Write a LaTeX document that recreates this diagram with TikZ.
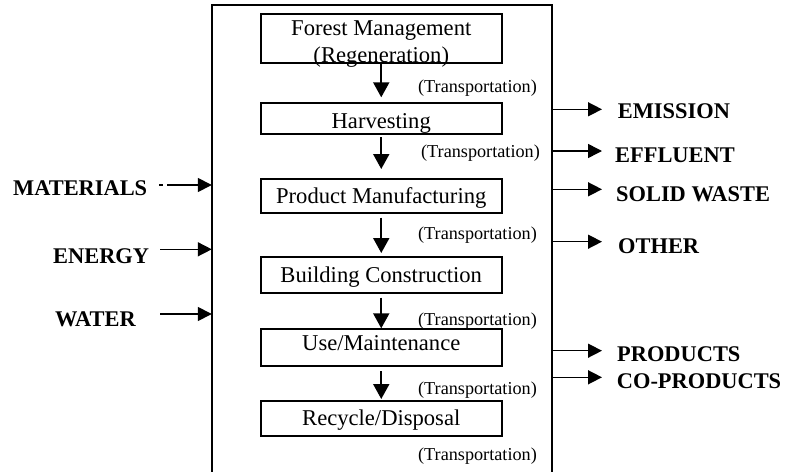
\documentclass[tikz,border=0pt]{standalone}
\usepackage{fontspec}
\setmainfont{Liberation Serif}
\usetikzlibrary{arrows.meta}
\begin{document}
\begin{tikzpicture}[x=1pt,y=-1pt,
  boxtxt/.style={font=\fontsize{22.6}{27}\selectfont, inner sep=0pt, anchor=base},
  trans/.style={font=\fontsize{18.2}{22}\selectfont, inner sep=0pt, anchor=base east},
  lbl/.style={font=\fontsize{22.4}{26}\selectfont\bfseries, inner sep=0pt, anchor=base west},
  stagebox/.style={draw, line width=2pt, inner sep=0pt, minimum width=240.5pt},
  varrow/.style={line width=2pt, -{Triangle[width=16pt,length=15pt]}},
  harrow/.style={line width=1.5pt, -{Triangle[width=14pt,length=14pt]}},
]
\useasboundingbox (0,0) rectangle (792,471);

% frame (open at the bottom)
\node[minimum width=340pt, minimum height=470pt, inner sep=0pt] (frame) at (382,240) {};
\draw[line width=2pt] (frame.south west) -- (frame.north west) -- (frame.north east) -- (frame.south east);

% stage boxes
\node[stagebox, minimum height=49.8pt] (b1) at (381.25,38.4) {};
\node[stagebox, minimum height=31pt]   (b2) at (381.25,118.2) {};
\node[stagebox, minimum height=33.4pt] (b3) at (381.25,196) {};
\node[stagebox, minimum height=35.7pt] (b4) at (381.25,274.85) {};
\node[stagebox, minimum height=36.7pt] (b5) at (381.25,347.65) {};
\node[stagebox, minimum height=34.7pt] (b6) at (381.25,418.35) {};

% stage texts
\node[boxtxt] (t1a) at (381.25,35) {Forest Management};
\node[boxtxt] (t1b) at (381.25,62) {(Regeneration)};
\begin{scope}
  \clip (b2.north west) rectangle (b2.south east);
  \node[boxtxt] (t2) at (381.25,128.3) {Harvesting};
\end{scope}
\node[boxtxt] (t3) at (381.25,203.3) {Product Manufacturing};
\node[boxtxt] (t4) at (381.25,282.4) {Building Construction};
\node[boxtxt] (t5) at (381.25,350) {Use/Maintenance};
\node[boxtxt] (t6) at (381.25,425.2) {Recycle/Disposal};

% vertical arrows
\draw[varrow] (b1.south) -- ([yshift=4.4pt]b2.north);
\draw[varrow] ([yshift=-2.3pt]b2.south) -- ([yshift=9.3pt]b3.north);
\draw[varrow] ([yshift=-4pt]b3.south) -- ([yshift=3pt]b4.north);
\draw[varrow] ([yshift=-4pt]b4.south) -- (b5.north);
\draw[varrow] ([yshift=-4pt]b5.south) -- ([yshift=1pt]b6.north);

% transportation labels
\node[trans] (tr1) at (537,92.7) {(Transportation)};
\node[trans] (tr2) at (540,157.5) {(Transportation)};
\node[trans] (tr3) at (537,239.3) {(Transportation)};
\node[trans] (tr4) at (537,325.7) {(Transportation)};
\node[trans] (tr5) at (537,394) {(Transportation)};
\node[trans] (tr6) at (537,460.3) {(Transportation)};

% inputs
\node[lbl] (mat) at (13,195) {MATERIALS};
\node[lbl] (ene) at (53,263.3) {ENERGY};
\node[lbl] (wat) at (55,326.7) {WATER};
\coordinate (inM) at (159,185);
\coordinate (inE) at (160,249.3);
\coordinate (inW) at (160,314);
\draw[harrow, dash pattern=on 4pt off 4pt on 300pt] (inM) -- (inM -| frame.west);
\draw[harrow] (inE) -- (inE -| frame.west);
\draw[harrow] (inW) -- (inW -| frame.west);

% outputs
\node[lbl] (emi) at (617.7,118.3) {EMISSION};
\node[lbl] (eff) at (615,162.7) {EFFLUENT};
\node[lbl] (sol) at (616,201.7) {SOLID WASTE};
\node[lbl] (oth) at (618,253.3) {OTHER};
\node[lbl] (pro) at (617,361.7) {PRODUCTS};
\node[lbl] (cop) at (616.7,388.3) {CO-PRODUCTS};
\coordinate (oEm) at (602,109.3);
\coordinate (oEf) at (602,151);
\coordinate (oSo) at (602,189.3);
\coordinate (oOt) at (602,241.7);
\coordinate (oPr) at (602,350.7);
\coordinate (oCo) at (602,377.3);
\draw[harrow] (oEm -| frame.east) -- (oEm);
\draw[harrow] (oEf -| frame.east) -- (oEf);
\draw[harrow] (oSo -| frame.east) -- (oSo);
\draw[harrow] (oOt -| frame.east) -- (oOt);
\draw[harrow] (oPr -| frame.east) -- (oPr);
\draw[harrow] (oCo -| frame.east) -- (oCo);
\end{tikzpicture}
\end{document}
